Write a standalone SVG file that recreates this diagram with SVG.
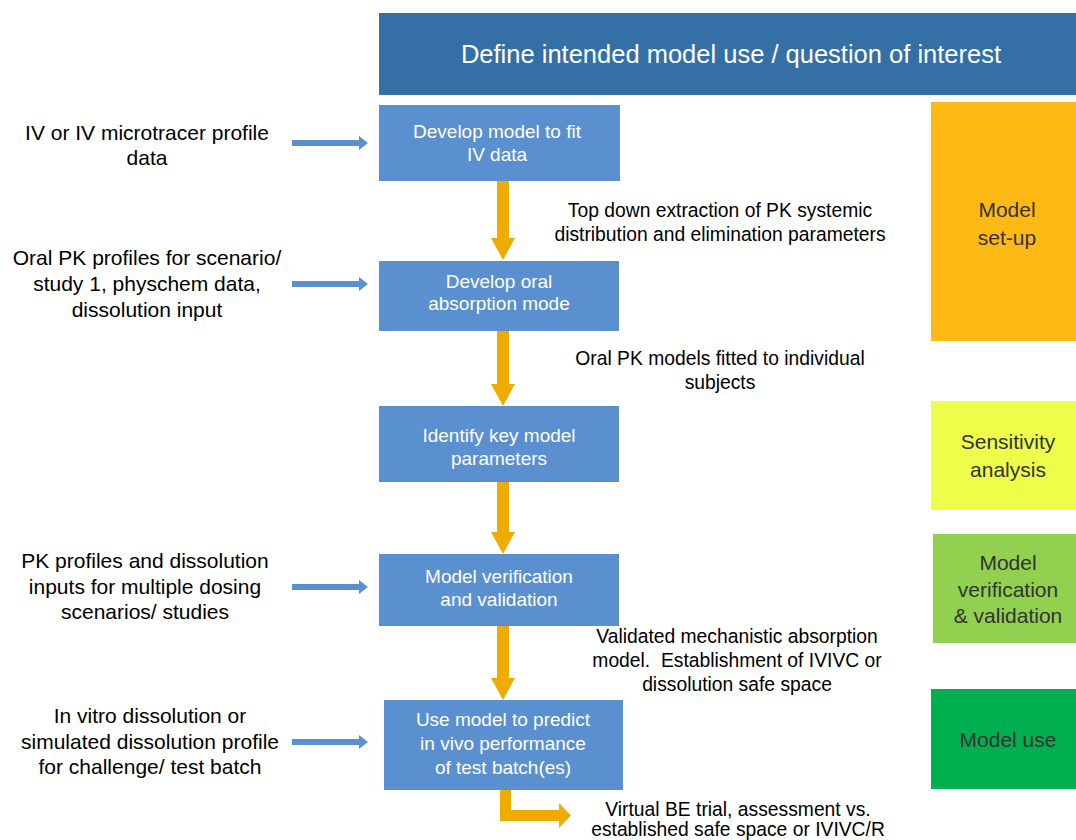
<svg xmlns="http://www.w3.org/2000/svg" width="1076" height="840" viewBox="0 0 1076 840">
<style>
.t{font-family:"Liberation Sans",Arial,sans-serif;text-anchor:middle}
.hdr{font-size:25.5px;fill:#fff}
.box{fill:#5A90D0}
.bt{font-size:19px;fill:#fff}
.lt{font-size:21px;fill:#000}
.rt{font-size:19.3px;fill:#000}
.st{font-size:21px;fill:#333}
.oa{fill:#F0AB00}
.ba{fill:#5A90D0}
</style>
<rect width="1076" height="840" fill="#fff"/>
<g id="header">
<rect x="379" y="13" width="697" height="82" fill="#3470A5"/>
<text class="t hdr" x="731" y="63">Define intended model use / question of interest</text>
</g>
<g id="box1">
<rect class="box" x="379" y="105" width="241" height="76"/>
<text class="t bt" x="497" y="138">Develop model to fit</text>
<text class="t bt" x="497" y="161">IV data</text>
</g>
<g id="box2">
<rect class="box" x="379" y="261" width="240" height="70"/>
<text class="t bt" x="499" y="288">Develop oral</text>
<text class="t bt" x="499" y="310">absorption mode</text>
</g>
<g id="box3">
<rect class="box" x="379" y="406" width="240" height="76"/>
<text class="t bt" x="499" y="442">Identify key model</text>
<text class="t bt" x="499" y="465">parameters</text>
</g>
<g id="box4">
<rect class="box" x="379" y="554" width="240" height="72"/>
<text class="t bt" x="499" y="583">Model verification</text>
<text class="t bt" x="499" y="606">and validation</text>
</g>
<g id="box5">
<rect class="box" x="384" y="700" width="239" height="90"/>
<text class="t bt" x="503" y="726">Use model to predict</text>
<text class="t bt" x="503" y="750">in vivo performance</text>
<text class="t bt" x="503" y="774">of test batch(es)</text>
</g>
<g id="setup">
<rect x="931" y="102" width="145" height="239" fill="#FFB914"/>
<text class="t st" x="1007" y="217">Model</text>
<text class="t st" x="1007" y="245">set-up</text>
</g>
<g id="sensitivity">
<rect x="931" y="401" width="145" height="109" fill="#EDFD4A"/>
<text class="t st" x="1008" y="449">Sensitivity</text>
<text class="t st" x="1008" y="477">analysis</text>
</g>
<g id="verification">
<rect x="933" y="534" width="143" height="109" fill="#92D050"/>
<text class="t st" x="1008" y="570">Model</text>
<text class="t st" x="1008" y="597">verification</text>
<text class="t st" x="1008" y="623">&amp; validation</text>
</g>
<g id="use">
<rect x="931" y="689" width="145" height="100" fill="#00B050"/>
<text class="t st" x="1008" y="747">Model use</text>
</g>
<g id="input1">
<text class="t lt" x="147" y="140">IV or IV microtracer profile</text>
<text class="t lt" x="147" y="165">data</text>
</g>
<g id="input2">
<text class="t lt" x="147" y="265">Oral PK profiles for scenario/</text>
<text class="t lt" x="147" y="291">study 1, physchem data,</text>
<text class="t lt" x="147" y="317">dissolution input</text>
</g>
<g id="input3">
<text class="t lt" x="145" y="568">PK profiles and dissolution</text>
<text class="t lt" x="145" y="594">inputs for multiple dosing</text>
<text class="t lt" x="145" y="619">scenarios/ studies</text>
</g>
<g id="input4">
<text class="t lt" x="150" y="723">In vitro dissolution or</text>
<text class="t lt" x="150" y="749">simulated dissolution profile</text>
<text class="t lt" x="150" y="774">for challenge/ test batch</text>
</g>
<g id="label1">
<text class="t rt" x="720" y="217">Top down extraction of PK systemic</text>
<text class="t rt" x="720" y="241">distribution and elimination parameters</text>
</g>
<g id="label2">
<text class="t rt" x="720" y="365">Oral PK models fitted to individual</text>
<text class="t rt" x="720" y="389">subjects</text>
</g>
<g id="label3">
<text class="t rt" x="737" y="643">Validated mechanistic absorption</text>
<text class="t rt" x="737" y="667">model.&#160; Establishment of IVIVC or</text>
<text class="t rt" x="737" y="691">dissolution safe space</text>
</g>
<g id="label4">
<text class="t rt" x="738" y="816">Virtual BE trial, assessment vs.</text>
<text class="t rt" x="738" y="836">established safe space or IVIVC/R</text>
</g>
<g id="connectors">
<polygon class="ba" points="292,140 359,140 359,136 368,143 359,150 359,146 292,146"/>
<polygon class="ba" points="292,281 359,281 359,277 368,284 359,291 359,287 292,287"/>
<polygon class="ba" points="292,584 359,584 359,580 368,587 359,594 359,590 292,590"/>
<polygon class="ba" points="292,739 359,739 359,735 368,742 359,749 359,745 292,745"/>
<polygon class="oa" points="497,181 509,181 509,238 515,238 503,260 491,238 497,238"/>
<polygon class="oa" points="497,331 509,331 509,384 515,384 503,406 491,384 497,384"/>
<polygon class="oa" points="497,482 509,482 509,532 515,532 503,554 491,532 497,532"/>
<polygon class="oa" points="497,626 509,626 509,678 515,678 503,700 491,678 497,678"/>
<polygon class="oa" points="500,790 511,790 511,810 559,810 559,803 571,815.5 559,828 559,821 500,821"/>
</g>
</svg>
